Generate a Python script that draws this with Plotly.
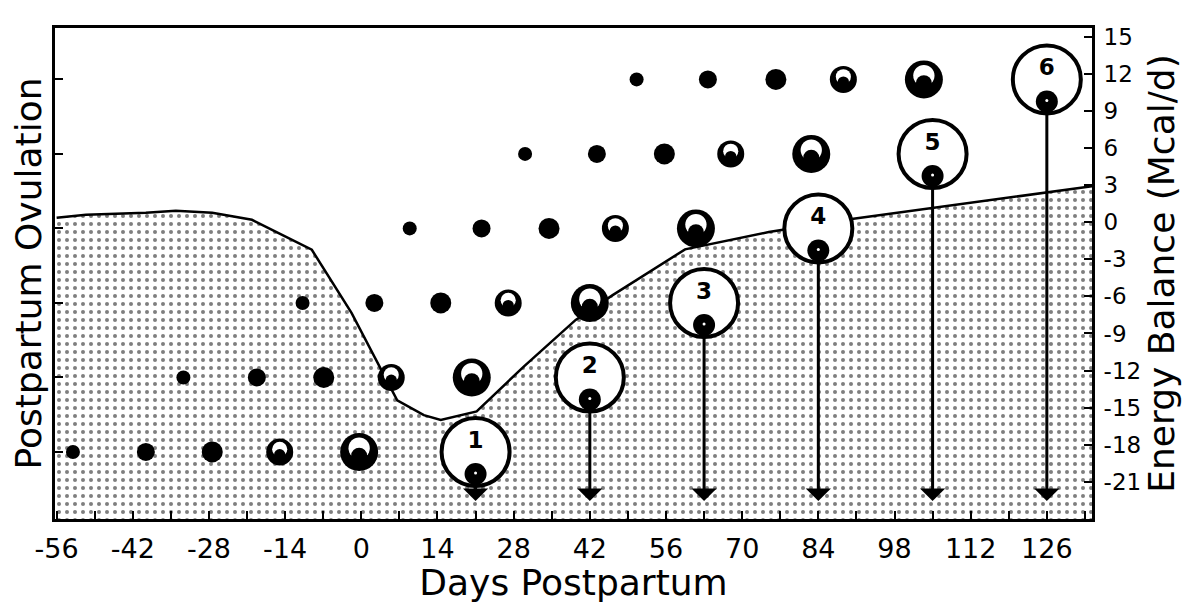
import plotly.graph_objects as go

# Energy balance curve (Mcal/d) against days postpartum
eb_days = [-56, -50.6, -39.6, -34.1, -27.4, -20.1, -15.3, -9.1, -1.8, 3.7, 6.6, 11.5,
           14.6, 21.2, 29.8, 39.4, 46.2, 59.5, 74.9, 89.1, 104.1, 126, 134.3]
eb_vals = [0.36, 0.6, 0.76, 0.92, 0.76, 0.19, -0.86, -2.23, -7.33, -11.9, -14.4, -15.6,
           -16.0, -15.3, -11.7, -7.9, -5.9, -2.2, -0.8, 0.2, 1.1, 2.4, 2.9]

# Postpartum ovulations (1..6) and the day each occurs
ovulation_number = [1, 2, 3, 4, 5, 6]
ovulation_day = [21, 42, 63, 84, 105, 126]

# Days of the five growing follicles in each wave before ovulation
wave_days = [
    [-53.0, -39.6, -27.4, -15.0, -0.4],
    [-32.7, -19.2, -6.9, 5.5, 20.3],
    [-10.8, 2.4, 14.6, 27.0, 42.0],
    [8.9, 22.1, 34.5, 46.7, 61.5],
    [30.1, 43.3, 55.7, 67.9, 82.7],
    [50.6, 63.7, 76.2, 88.6, 103.4],
]

x_ticks = [-56, -42, -28, -14, 0, 14, 28, 42, 56, 70, 84, 98, 112, 126]
x_ticktext = ['-56', '-42', '-28', '-14', '0', '14', '28', '42', '56', '70', '84', '98', '112', '126']
eb_ticks = [15, 12, 9, 6, 3, 0, -3, -6, -9, -12, -15, -18, -21]
eb_ticktext = ['15', '12', '9', '6', '3', '0', '-3', '-6', '-9', '-12', '-15', '-18', '-21']

X_RANGE = [-56.3, 134.3]
EB_RANGE = [-24, 15.7]
OV_RANGE = [0.10, 6.69]
ROW_PX = 74.5  # pixels between ovulation rows, used to offset glyph parts
FONT = 'DejaVu Sans'

fig = go.Figure()

# baseline at the bottom of the axis, then the dotted energy balance area
fig.add_trace(go.Scatter(
    x=[eb_days[0], eb_days[-1]], y=[EB_RANGE[0], EB_RANGE[0]],
    mode='lines', line=dict(width=0, color='black'), yaxis='y',
    showlegend=False, hoverinfo='skip'))
fig.add_trace(go.Scatter(
    x=eb_days, y=eb_vals, mode='lines', yaxis='y',
    line=dict(color='black', width=2.5),
    fill='tonexty', fillcolor='white',
    fillpattern=dict(shape='.', fgcolor='black', bgcolor='white', size=8, solidity=0.2),
    showlegend=False))

# small solid follicles
solid_sizes = [14, 18, 21]
for i, s in enumerate(solid_sizes):
    fig.add_trace(go.Scatter(
        x=[w[i] for w in wave_days], y=ovulation_number, mode='markers', yaxis='y2',
        marker=dict(size=s, color='black', line=dict(width=0)), showlegend=False))

# larger follicles with an antrum (ring look)
ring_sizes = [27, 38]
for j, s in enumerate(ring_sizes):
    i = 3 + j
    xs = [w[i] for w in wave_days]
    fig.add_trace(go.Scatter(
        x=xs, y=ovulation_number, mode='markers', yaxis='y2',
        marker=dict(size=s, color='black', line=dict(width=0)), showlegend=False))
    fig.add_trace(go.Scatter(
        x=xs, y=[k + 0.1 * s / ROW_PX for k in ovulation_number], mode='markers', yaxis='y2',
        marker=dict(size=s * 0.56, color='white', line=dict(width=0)), showlegend=False))
    fig.add_trace(go.Scatter(
        x=xs, y=[k - 0.1 * s / ROW_PX for k in ovulation_number], mode='markers', yaxis='y2',
        marker=dict(size=s * 0.42, color='black', line=dict(width=0)), showlegend=False))

# ovulatory follicles
fig.add_trace(go.Scatter(
    x=ovulation_day, y=ovulation_number, mode='markers', yaxis='y2',
    marker=dict(size=68, color='white', line=dict(color='black', width=4)),
    showlegend=False))
fig.add_trace(go.Scatter(
    x=ovulation_day, y=[k - 22 / ROW_PX for k in ovulation_number], mode='markers', yaxis='y2',
    marker=dict(size=22, color='black', line=dict(width=0)), showlegend=False))
fig.add_trace(go.Scatter(
    x=ovulation_day, y=[k - 21 / ROW_PX for k in ovulation_number], mode='markers', yaxis='y2',
    marker=dict(size=3, color='white', line=dict(width=0)), showlegend=False))
fig.add_trace(go.Scatter(
    x=ovulation_day, y=[k + 10 / ROW_PX for k in ovulation_number], mode='text', yaxis='y2',
    text=['<b>%d</b>' % k for k in ovulation_number],
    textfont=dict(family=FONT, size=23, color='black'), showlegend=False))

# arrows from each ovulation down to the day axis
for d, k in zip(ovulation_day, ovulation_number):
    fig.add_annotation(
        x=d, y=0.34, ax=d, ay=k - 32 / ROW_PX,
        xref='x', yref='y2', axref='x', ayref='y2',
        showarrow=True, arrowhead=1, arrowsize=1.4, arrowwidth=3, arrowcolor='black', text='')

# the page body keeps an 8 px default margin, so the figure is sized to fit inside it
fig.update_layout(
    width=1189, height=595,
    margin=dict(l=47, r=105, t=20, b=84),
    paper_bgcolor='white', plot_bgcolor='white',
    font=dict(family=FONT, color='black'),
    showlegend=False,
    xaxis=dict(
        range=X_RANGE, tickvals=x_ticks, ticktext=x_ticktext, automargin=False,
        ticks='inside', ticklen=8, tickwidth=2, tickcolor='black',
        minor=dict(dtick=7, tick0=-56, ticks='inside', ticklen=8, tickwidth=2, tickcolor='black'),
        showline=True, linewidth=3, linecolor='black', mirror=True,
        showgrid=False, zeroline=False,
        tickfont=dict(size=27), ticklabelstandoff=4,
        title=dict(text='Days Postpartum', font=dict(size=36), standoff=0)),
    yaxis=dict(
        side='right', range=EB_RANGE, tickvals=eb_ticks, ticktext=eb_ticktext, automargin=False,
        ticks='inside', ticklen=8, tickwidth=2, tickcolor='black',
        showline=True, linewidth=3, linecolor='black',
        showgrid=False, zeroline=False,
        tickfont=dict(size=23), ticklabelstandoff=4,
        title=dict(text='Energy Balance (Mcal/d)', font=dict(size=36), standoff=0)),
    yaxis2=dict(
        overlaying='y', side='left', range=OV_RANGE, tickvals=ovulation_number, automargin=False,
        showticklabels=False, ticks='inside', ticklen=8, tickwidth=2, tickcolor='black',
        showline=True, linewidth=3, linecolor='black',
        showgrid=False, zeroline=False,
        title=dict(text='Postpartum Ovulation', font=dict(size=36), standoff=0)),
)

fig.write_html("out.html")
